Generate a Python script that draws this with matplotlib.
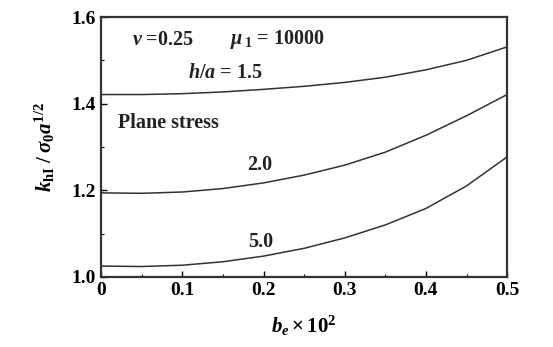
import matplotlib
matplotlib.use("Agg")
import matplotlib.pyplot as plt
import numpy as np

x = [0.0, 0.05, 0.1, 0.15, 0.2, 0.25, 0.3, 0.35, 0.4, 0.45, 0.5]
k_15 = [1.421, 1.421, 1.423, 1.427, 1.433, 1.440, 1.449, 1.461, 1.478, 1.500, 1.531]
k_20 = [1.194, 1.193, 1.196, 1.204, 1.217, 1.235, 1.258, 1.288, 1.327, 1.372, 1.421]
k_50 = [1.025, 1.024, 1.027, 1.035, 1.048, 1.066, 1.090, 1.120, 1.158, 1.210, 1.277]
xticks = [0, 0.1, 0.2, 0.3, 0.4, 0.5]
xtick_labels = ["0", "0.1", "0.2", "0.3", "0.4", "0.5"]
yticks = [1.0, 1.2, 1.4, 1.6]
ytick_labels = ["1.0", "1.2", "1.4", "1.6"]

plt.rcParams['font.family'] = ['Liberation Serif', 'DejaVu Serif']
plt.rcParams['mathtext.fontset'] = 'custom'
plt.rcParams['mathtext.rm'] = 'Liberation Serif:bold'
plt.rcParams['mathtext.it'] = 'Liberation Serif:bold:italic'
plt.rcParams['mathtext.bf'] = 'Liberation Serif:bold'

fig = plt.figure(figsize=(5.53, 3.47), dpi=100)
ax = fig.add_axes([0.183, 0.202, 0.734, 0.749])

for y in (k_15, k_20, k_50):
    ax.plot(x, y, color='#333333', lw=1.1)

ax.set_xlim(0, 0.5)
ax.set_ylim(1.0, 1.6)
ax.set_xticks(xticks)
ax.set_xticklabels(xtick_labels)
ax.set_yticks(yticks)
ax.set_yticklabels(ytick_labels)
ax.set_xticks(np.arange(0.05, 0.5, 0.1), minor=True)
ax.set_yticks([1.1, 1.3, 1.5], minor=True)
ax.tick_params(direction='in', length=4, width=1, labelsize=14, pad=4)
ax.tick_params(which='minor', direction='in', length=2.5, width=0.8)
for lab in ax.get_xticklabels() + ax.get_yticklabels():
    lab.set_fontweight('bold')
for s in ax.spines.values():
    s.set_linewidth(1.6)
    s.set_color('#333333')

tk = dict(fontsize=14.5, fontweight='bold', color='#222222')
ax.text(0.038, 1.547, r"$\nu$ =0.25", ha='left', va='center', **tk)
ax.text(0.159, 1.547, r"$\mu$$_{\,1}$ = 10000", ha='left', va='center', **tk)
ax.text(0.107, 1.471, r"$h/a$ = 1.5", ha='left', va='center', **tk)
ax.text(0.021, 1.355, "Plane stress", ha='left', va='center', **tk)
ax.text(0.180, 1.258, "2.0", ha='left', va='center', **tk)
ax.text(0.181, 1.081, "5.0", ha='left', va='center', **tk)

ax.set_xlabel(r"$b_e\times 10^2$", fontsize=15, labelpad=10)
ax.set_ylabel(r"$k_{\rm hI}\;/\;\sigma_0 a^{1/2}$", fontsize=15, labelpad=10)

fig.savefig("out.png", dpi=100)
